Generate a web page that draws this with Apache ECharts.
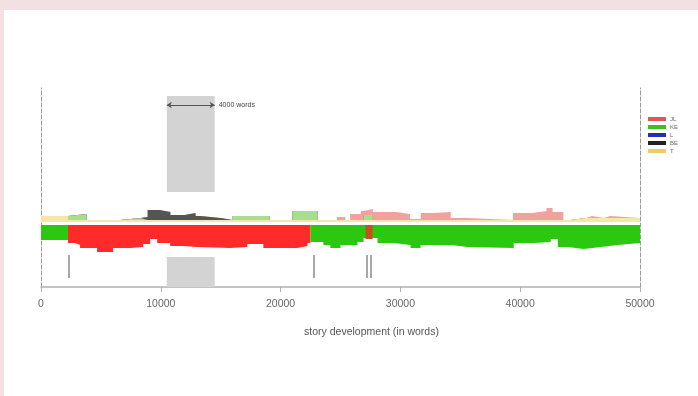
<!DOCTYPE html>
<html>
<head>
<meta charset="utf-8">
<script src="https://cdn.jsdelivr.net/npm/echarts@6/dist/echarts.min.js"></script>
<style>
  html, body { margin: 0; padding: 0; background: #f3e0e2; }
  #main { position: absolute; left: 4px; top: 10px; width: 694px; height: 386px; background: #fff; }
</style>
</head>
<body>
<div id="main"></div>
<script>
// x ticks (words)
var xTicks = [0, 10000, 20000, 30000, 40000, 50000];
var storyEnd = 50000;

// legend entries
var names = ['JL', 'KE', 'L', 'BE', 'T'];

// window highlight (4000 words)
var windowStart = 10500;
var windowEnd = 14500;

// scene marks (rug)
var rugWords = [2340, 22740, 27170, 27510];

// upper band: presence of each character, [start word, height]
var upYellow = [[0, 6], [2250, 2], [44200, 4], [50000, 4]];
var upGreen = [[0, 0], [2250, 6], [3800, 0], [6600, 2], [8300, 0], [16000, 4], [19100, 0],
  [21000, 9], [23100, 0], [26900, 5], [27700, 0], [50000, 0]];
var upBlack = [[0, 0], [8300, 3], [8900, 10], [9900, 8], [10800, 5], [12000, 7], [12900, 4],
  [13300, 2], [15000, 0], [50000, 0]];
var upRed = [[0, 0], [24700, 3], [25400, 0], [25800, 6], [26700, 9], [26900, 6], [27700, 8],
  [29600, 6], [30800, 1], [31700, 7], [32800, 8], [34200, 2], [35600, 0], [39400, 7],
  [41000, 9], [42200, 12], [42700, 8], [43600, 0], [45500, 2], [46000, 0], [47000, 2],
  [47500, 0], [50000, 0]];

// lower band: dominant character, [start word, depth]
var lowGreenA = [[0, -18], [2250, -18]];
var lowRed = [[2250, -21], [2840, -23], [3260, -26], [4680, -30], [6020, -26], [7440, -25],
  [8530, -22], [9110, -17], [9700, -21], [10780, -24], [11870, -25], [13040, -26],
  [15800, -25], [17220, -22], [18560, -26], [21400, -24], [22240, -21], [22490, -21]];
var lowGreenB = [[22490, -20], [23570, -23], [24160, -26], [25000, -23], [26420, -20],
  [26920, -16], [28090, -21], [29430, -23], [30850, -26], [31680, -23], [34190, -25],
  [35610, -26], [39460, -21], [41130, -20], [42550, -17], [43140, -25], [43970, -27],
  [45310, -25], [46730, -23], [48150, -21], [50000, -21]];
var lowMix = [[27090, -17], [27680, -17]];

function valAt(layer, x) {
  var v = 0;
  for (var i = 0; i < layer.length; i++) { if (layer[i][0] <= x) v = layer[i][1]; }
  return v;
}

// each value holds until the next start word
function steps(seg) {
  var out = [];
  for (var i = 0; i < seg.length; i++) {
    out.push(seg[i]);
    if (i + 1 < seg.length) out.push([seg[i + 1][0], seg[i][1]]);
  }
  return out;
}

// stack the upper layers ourselves on a common set of breakpoints
var layers = [upYellow, upGreen, upBlack, upRed];
var xs = [];
layers.forEach(function (l) { l.forEach(function (p) { if (xs.indexOf(p[0]) < 0) xs.push(p[0]); }); });
xs.sort(function (a, b) { return a - b; });
var cum = [];
var run = xs.map(function () { return 0; });
layers.forEach(function (l) {
  run = run.map(function (r, i) { return r + valAt(l, xs[i]); });
  cum.push(xs.map(function (x, i) { return [x, run[i]]; }));
});

function area(name, seg, color, fill, origin, z) {
  return {
    name: name, type: 'line', data: steps(seg), color: color,
    showSymbol: false, silent: true, z: z,
    lineStyle: { width: 0, opacity: 0 },
    areaStyle: { color: fill, opacity: 1, origin: origin }
  };
}

var chart = echarts.init(document.getElementById('main'));
chart.setOption({
  animation: false,
  backgroundColor: '#fff',
  textStyle: { fontFamily: 'Liberation Sans' },
  grid: { left: 37, right: 58, top: 78, bottom: 109 },
  legend: {
    data: names, orient: 'vertical', left: 639, top: 101,
    icon: 'rect', itemWidth: 18, itemHeight: 4, itemGap: 2,
    textStyle: { fontSize: 6, color: '#666', padding: [0, 0, 0, -1] }
  },
  xAxis: {
    type: 'value', min: 0, max: storyEnd, interval: 10000,
    name: 'story development (in words)', nameLocation: 'middle', nameGap: 40,
    nameTextStyle: { fontSize: 10.5, color: '#555', padding: [0, 0, 0, 62] },
    axisLine: { onZero: false, lineStyle: { color: '#b0b0b0', width: 1.5 } },
    axisTick: { length: 5, lineStyle: { color: '#b0b0b0' } },
    axisLabel: { fontSize: 10.5, color: '#666', margin: 12,
      customValues: xTicks, formatter: function (v) { return String(v); } },
    splitLine: { show: false }
  },
  yAxis: [
    { type: 'value', min: -65, max: 134, position: 'left',
      axisLine: { show: true, lineStyle: { type: 'dashed', color: '#999' } },
      axisTick: { show: false }, axisLabel: { show: false }, splitLine: { show: false } },
    { type: 'value', min: -65, max: 134, position: 'right',
      axisLine: { show: true, lineStyle: { type: 'dashed', color: '#999' } },
      axisTick: { show: false }, axisLabel: { show: false }, splitLine: { show: false } }
  ],
  series: [
    area(names[0], cum[3], '#e8505a', '#f2a0a0', 0, 2),
    area(names[3], cum[2], '#222222', '#555555', 0, 3),
    area(names[1], cum[1], '#3cc020', '#a8dc90', 0, 4),
    area(names[4], cum[0], '#f0cc60', '#f6e6a8', 0, 5),
    { name: names[2], type: 'line', data: [], color: '#2030b0' },
    Object.assign(area('lowGreenA', lowGreenA, '#2cc810', '#2cc810', -3, 6), {
      markArea: {
        silent: true,
        itemStyle: { color: '#d3d3d3' },
        data: [
          [{ coord: [windowStart, 126] }, { coord: [windowEnd, 30] }],
          [{ coord: [windowStart, -35] }, { coord: [windowEnd, -65] }]
        ]
      },
      markLine: {
        silent: true, symbol: ['arrow', 'arrow'], symbolSize: 5,
        lineStyle: { color: '#555', width: 1, type: 'solid' },
        label: { show: true, position: 'end', formatter: (windowEnd - windowStart) + ' words',
          fontSize: 7, color: '#444', distance: 4 },
        data: [[{ coord: [windowStart, 117] }, { coord: [windowEnd, 117] }]]
      }
    }),
    Object.assign(area('lowRed', lowRed, '#ff2a2a', '#ff2a2a', -3, 6), {
      markLine: {
        silent: true, symbol: 'none',
        lineStyle: { color: '#8a8a8a', width: 1.5, type: 'solid' },
        label: { show: false },
        data: rugWords.map(function (w) { return [{ coord: [w, -33] }, { coord: [w, -56] }]; })
      }
    }),
    area('lowGreenB', lowGreenB, '#2cc810', '#2cc810', -3, 6),
    area('lowMix', lowMix, '#c8501e', '#c8501e', -3, 7)
  ]
});
</script>
</body>
</html>
